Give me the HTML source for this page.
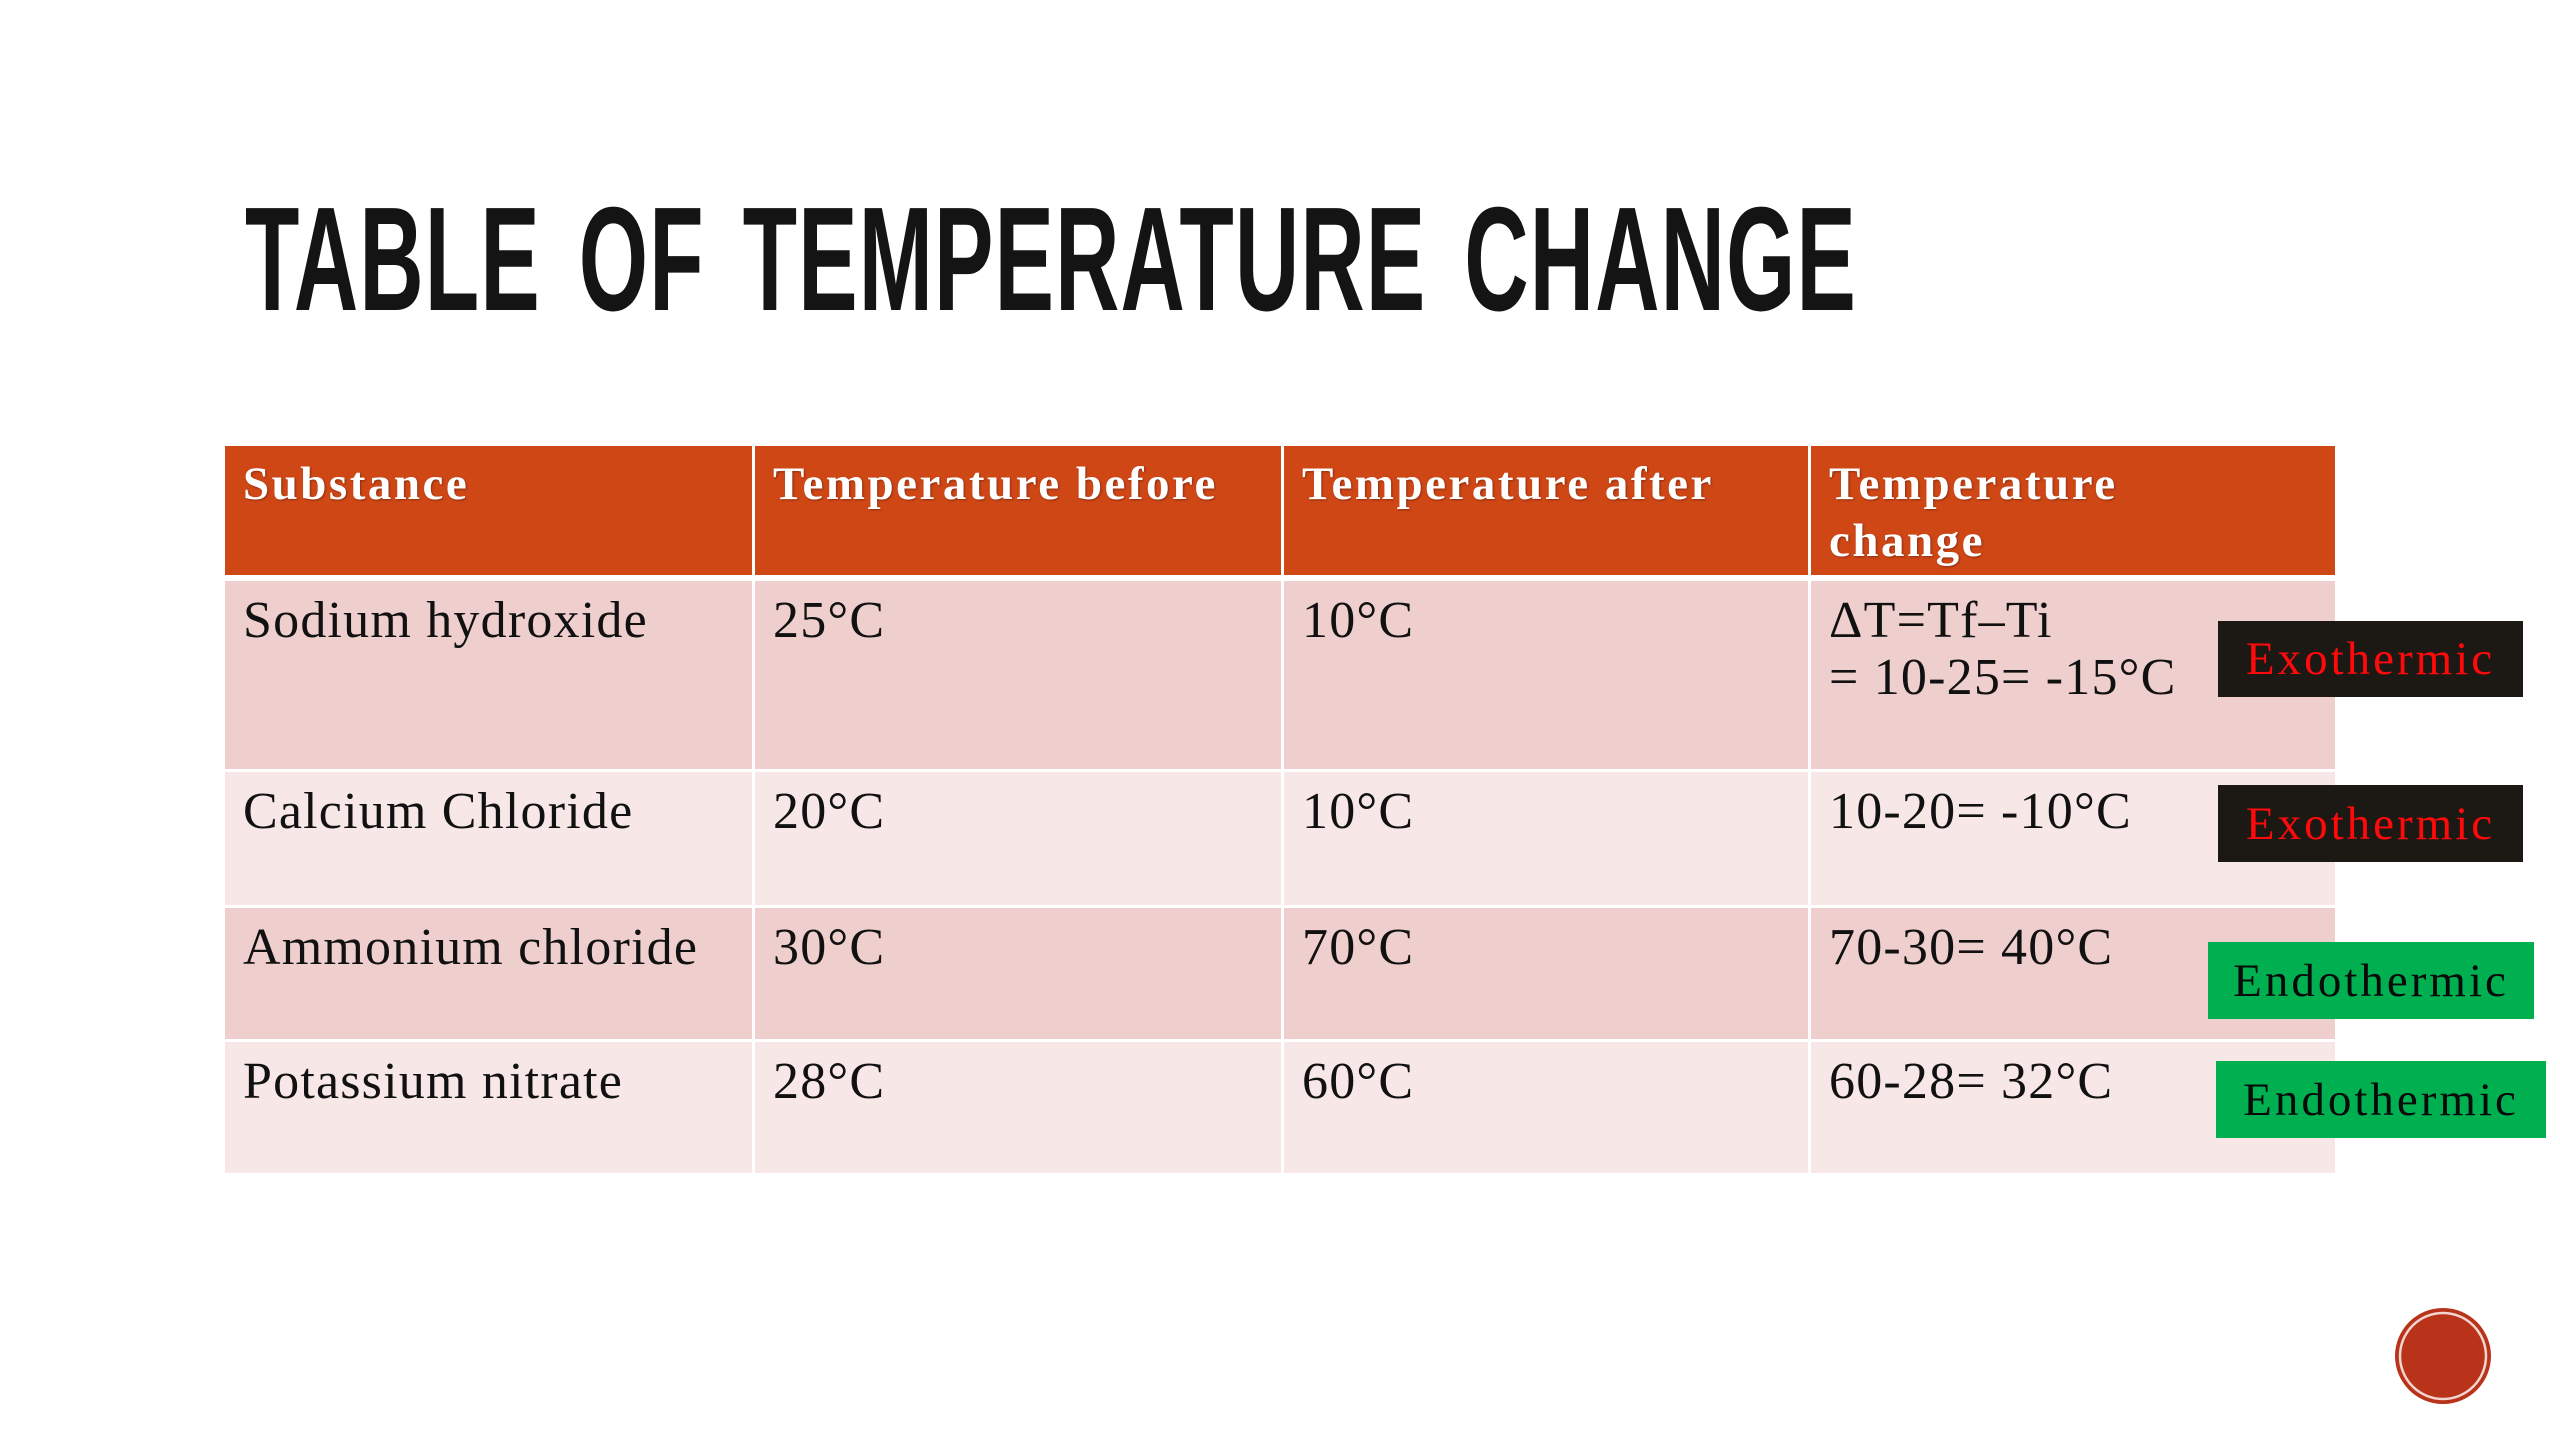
<!DOCTYPE html>
<html><head><meta charset="utf-8"><style>
html,body{margin:0;padding:0;background:#fff;}
#slide{position:relative;width:2560px;height:1440px;overflow:hidden;background:#fff;font-family:"Liberation Serif",serif;}
.title{position:absolute;left:245px;top:190px;height:140px;font-family:"Liberation Sans Narrow","Liberation Sans",sans-serif;font-weight:bold;font-size:148px;line-height:140px;color:#141414;white-space:nowrap;transform-origin:0 0;letter-spacing:2px;word-spacing:20px;}
.cell{position:absolute;box-sizing:border-box;padding-left:18px;white-space:nowrap;}
.hd{background:#d04716;color:#fff;font-weight:bold;font-size:47px;line-height:57px;padding-top:10px;text-shadow:1px 1px 2px rgba(0,0,0,.35);letter-spacing:2.5px;}
.odd{background:#efcfcd;}
.even{background:#f7e8e7;}
.bd{color:#111;font-size:52px;line-height:57px;padding-top:11px;letter-spacing:1.2px;}
.badge{position:absolute;box-sizing:border-box;font-size:47px;text-align:center;display:flex;align-items:center;justify-content:center;letter-spacing:3px;}
.exo{background:#1c1814;color:#ff0a0a;}
.endo{background:#00b050;color:#0a0a0a;}
</style></head><body>
<div id="slide">
<div class="title" id="title">TABLE OF TEMPERATURE CHANGE</div>

<div>
<div class="cell hd" style="left:225px;top:446px;width:527px;height:129px">Substance</div>
<div class="cell hd" style="left:755px;top:446px;width:526px;height:129px">Temperature before</div>
<div class="cell hd" style="left:1284px;top:446px;width:524px;height:129px">Temperature after</div>
<div class="cell hd" style="left:1811px;top:446px;width:524px;height:129px">Temperature<br>change</div>

<div class="cell bd odd" style="left:225px;top:581px;width:527px;height:188px">Sodium hydroxide</div>
<div class="cell bd odd" style="left:755px;top:581px;width:526px;height:188px">25°C</div>
<div class="cell bd odd" style="left:1284px;top:581px;width:524px;height:188px">10°C</div>
<div class="cell bd odd" style="left:1811px;top:581px;width:524px;height:188px">ΔT=Tf–Ti<br>= 10-25= -15°C</div>

<div class="cell bd even" style="left:225px;top:772px;width:527px;height:133px">Calcium Chloride</div>
<div class="cell bd even" style="left:755px;top:772px;width:526px;height:133px">20°C</div>
<div class="cell bd even" style="left:1284px;top:772px;width:524px;height:133px">10°C</div>
<div class="cell bd even" style="left:1811px;top:772px;width:524px;height:133px">10-20= -10°C</div>

<div class="cell bd odd" style="left:225px;top:908px;width:527px;height:131px">Ammonium chloride</div>
<div class="cell bd odd" style="left:755px;top:908px;width:526px;height:131px">30°C</div>
<div class="cell bd odd" style="left:1284px;top:908px;width:524px;height:131px">70°C</div>
<div class="cell bd odd" style="left:1811px;top:908px;width:524px;height:131px">70-30= 40°C</div>

<div class="cell bd even" style="left:225px;top:1042px;width:527px;height:131px">Potassium nitrate</div>
<div class="cell bd even" style="left:755px;top:1042px;width:526px;height:131px">28°C</div>
<div class="cell bd even" style="left:1284px;top:1042px;width:524px;height:131px">60°C</div>
<div class="cell bd even" style="left:1811px;top:1042px;width:524px;height:131px">60-28= 32°C</div>
</div>

<div class="badge exo" style="left:2218px;top:621px;width:305px;height:76px">Exothermic</div>
<div class="badge exo" style="left:2218px;top:785px;width:305px;height:77px">Exothermic</div>
<div class="badge endo" style="left:2208px;top:942px;width:326px;height:77px">Endothermic</div>
<div class="badge endo" style="left:2216px;top:1061px;width:330px;height:77px">Endothermic</div>

<svg style="position:absolute;left:2392px;top:1305px" width="102" height="102">
<circle cx="51" cy="51" r="48" fill="#b8331a"/>
<circle cx="51" cy="51" r="43" fill="none" stroke="#f3d6cf" stroke-width="2.5"/>
</svg>
</div>
<script>
var t=document.getElementById('title');
var w=t.scrollWidth;
t.style.transform='scaleX('+(1612/w)+')';
</script>
</body></html>
